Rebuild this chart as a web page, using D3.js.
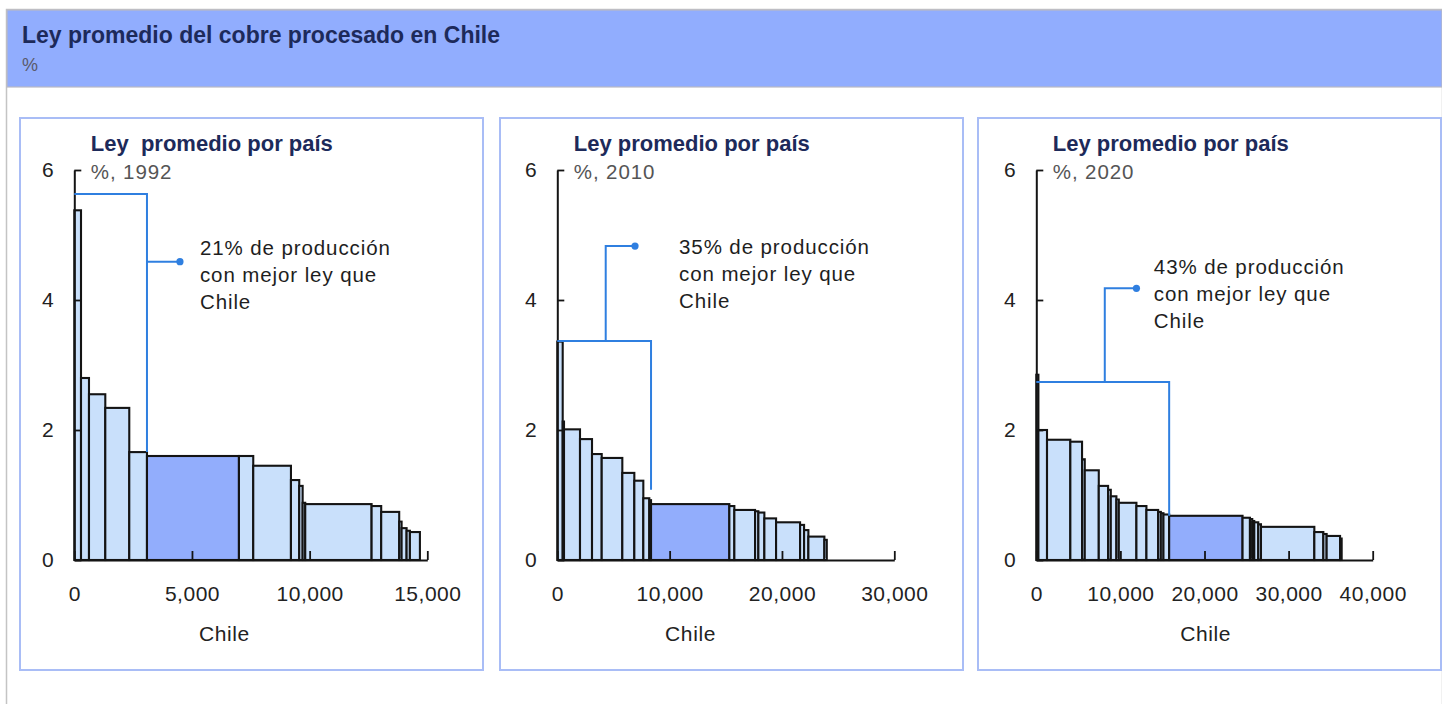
<!DOCTYPE html>
<html>
<head>
<meta charset="utf-8">
<script src="https://cdn.jsdelivr.net/npm/d3@7"></script>
<style>
  html, body { margin: 0; padding: 0; background: #ffffff; }
  svg { display: block; font-family: "Liberation Sans", Arial, Helvetica, sans-serif; }
</style>
</head>
<body>
<svg id="chart" width="1442" height="704"></svg>
<script>
// ---------------- DATA ----------------
const mainTitle = "Ley promedio del cobre procesado en Chile";
const mainUnit = "%";
const panelTitles = ["Ley  promedio por país", "Ley promedio por país", "Ley promedio por país"];
const years = ["1992", "2010", "2020"];
const axisLabel = "Chile";

// production (bar widths) and average grade (bar heights), countries sorted by grade
const prod1992  = [285, 339, 693, 1019, 752, 3908, 608, 1602, 352, 145, 110, 2820, 408, 765, 102, 212, 141, 425];
const grade1992 = [5.38, 2.80, 2.55, 2.34, 1.66, 1.60, 1.60, 1.45, 1.23, 1.14, 0.88, 0.86, 0.83, 0.74, 0.59, 0.49, 0.45, 0.43];

const prod2010  = [481, 116, 1424, 1069, 864, 1834, 1069, 801, 534, 152, 6972, 445, 1844, 294, 534, 1042, 2137, 356, 383, 1425, 213];
const grade2010 = [3.36, 2.13, 2.01, 1.86, 1.63, 1.57, 1.34, 1.22, 0.95, 0.92, 0.86, 0.83, 0.77, 0.75, 0.73, 0.64, 0.58, 0.54, 0.46, 0.36, 0.31];

const prod2020  = [250, 1024, 2774, 1392, 322, 1667, 1107, 321, 667, 286, 2095, 1190, 1393, 322, 309, 679, 8726, 881, 274, 238, 476, 321, 6346, 1071, 393, 1595, 191];
const grade2020 = [2.85, 2.00, 1.85, 1.82, 1.55, 1.38, 1.14, 1.08, 0.98, 0.93, 0.88, 0.83, 0.77, 0.74, 0.72, 0.70, 0.68, 0.65, 0.63, 0.60, 0.58, 0.55, 0.51, 0.43, 0.40, 0.37, 0.33];

const chileIndex = [5, 10, 16];

const xMax = [15000, 30000, 40000];
const xTicks1992 = [0, 5000, 10000, 15000];
const xTicks2010 = [0, 10000, 20000, 30000];
const xTicks2020 = [0, 10000, 20000, 30000, 40000];
const yTicks = [0, 2, 4, 6];
const yMax = 6;

// annotation: share of production with a better grade than Chile
const shareText = ["21% de producción", "35% de producción", "43% de producción"];
const shareLines = ["con mejor ley que", "Chile"];
const bracketTop = [5.63, 3.37, 2.74];
const bracketBottom = [1.66, 1.08, 0.68];
const stemX = [null, 4310, 8143];      // null: branch leaves the bracket's vertical side
const dotX = [4490, 6919, 11905];
const dotY = [4.59, 4.83, 4.18];
const noteX = [5340, 10837, 13976];
const noteY = [4.80, 4.815, 4.51];
const axisLabelX = [6381, 11861, 20143];

// ---------------- LAYOUT ----------------
const W = 1442, H = 704;
const panelLeft = [20, 500, 978];
const panelW = 463, panelTop = 118, panelH = 552;
const plotLeft = [74.3, 557.3, 1036.3];
const plotRight = [427.3, 894.3, 1372.7];
const plotTop = 170, plotBottom = 560;

const colLight = "#c9e0fb";
const colChile = "#92adfc";
const colBracket = "#2f7fe0";
const colInk = "#141414";
const colNavy = "#1d2a5a";

const svg = d3.select("#chart");

// outer frame + header band
svg.append("rect").attr("x", 6.5).attr("y", 9.5).attr("width", W - 6).attr("height", H)
  .attr("fill", "#fff").attr("stroke", "#c4c4c4").attr("stroke-width", 1.5);
svg.append("rect").attr("x", 7).attr("y", 10).attr("width", W - 7).attr("height", 77)
  .attr("fill", "#91adfe").attr("stroke", "#b9b9c4").attr("stroke-width", 1.2);
svg.append("text").attr("x", 22).attr("y", 43).text(mainTitle)
  .attr("font-size", 23).attr("font-weight", "bold").attr("fill", colNavy);
svg.append("text").attr("x", 22).attr("y", 71).text(mainUnit)
  .attr("font-size", 18).attr("fill", "#5a5a6a");

const datasets = [
  { prod: prod1992, grade: grade1992, ticks: xTicks1992 },
  { prod: prod2010, grade: grade2010, ticks: xTicks2010 },
  { prod: prod2020, grade: grade2020, ticks: xTicks2020 }
];

datasets.forEach((ds, p) => {
  // panel frame
  svg.append("rect").attr("x", panelLeft[p]).attr("y", panelTop)
    .attr("width", panelW).attr("height", panelH)
    .attr("fill", "#fff").attr("stroke", "#a9bdf6").attr("stroke-width", 2);

  const x = d3.scaleLinear().domain([0, xMax[p]]).range([plotLeft[p], plotRight[p]]);
  const y = d3.scaleLinear().domain([0, yMax]).range([plotBottom, plotTop]);

  const ends = Array.from(d3.cumsum(ds.prod));
  const bars = ds.prod.map((v, i) => ({
    x0: ends[i] - v, x1: ends[i], g: ds.grade[i], chile: i === chileIndex[p]
  }));

  const g = svg.append("g");

  // titles
  g.append("text").attr("x", plotLeft[p] + 16.5).attr("y", 151).text(panelTitles[p])
    .attr("font-size", 22).attr("font-weight", "bold").attr("fill", colNavy)
    .style("white-space", "pre").attr("xml:space", "preserve");
  g.append("text").attr("x", plotLeft[p] + 16.5).attr("y", 179).text("%, " + years[p])
    .attr("font-size", 20.5).attr("letter-spacing", 0.9).attr("fill", "#555");

  // bars
  g.append("g").selectAll("rect").data(bars).join("rect")
    .attr("x", d => x(d.x0))
    .attr("y", d => y(d.g))
    .attr("width", d => x(d.x1) - x(d.x0))
    .attr("height", d => y(0) - y(d.g))
    .attr("fill", d => d.chile ? colChile : colLight)
    .attr("stroke", colInk).attr("stroke-width", 2.1);

  // axes
  const yAxis = d3.axisLeft(y).tickValues(yTicks).tickSize(-7).tickSizeOuter(0)
    .tickPadding(20).tickFormat(d3.format("d"));
  const ya = g.append("g").attr("transform", `translate(${plotLeft[p]},0)`).call(yAxis);
  const xAxis = d3.axisBottom(x).tickValues(ds.ticks).tickSize(-9).tickSizeOuter(0)
    .tickPadding(26).tickFormat(d3.format(","));
  const xa = g.append("g").attr("transform", `translate(0,${plotBottom})`).call(xAxis);
  [ya, xa].forEach(a => {
    a.selectAll("path.domain").attr("stroke", colInk).attr("stroke-width", 2);
    a.selectAll(".tick line").attr("stroke", colInk).attr("stroke-width", 1.8);
    a.selectAll(".tick text").attr("font-size", 21).attr("letter-spacing", 0.5)
      .attr("fill", "#222").attr("font-family", "Liberation Sans, Arial, sans-serif");
  });

  g.append("text").attr("x", x(axisLabelX[p])).attr("y", 641).attr("text-anchor", "middle")
    .text(axisLabel).attr("font-size", 21).attr("letter-spacing", 0.6).attr("fill", "#222");

  // bracket annotation
  const chileStart = bars[chileIndex[p]].x0;
  const bracket = d3.path();
  bracket.moveTo(x(0), y(bracketTop[p]));
  bracket.lineTo(x(chileStart), y(bracketTop[p]));
  bracket.lineTo(x(chileStart), y(bracketBottom[p]));
  g.append("path").attr("d", bracket.toString()).attr("fill", "none")
    .attr("stroke", colBracket).attr("stroke-width", 2);

  const sx = stemX[p] === null ? chileStart : stemX[p];
  const stem = d3.path();
  stem.moveTo(x(sx), y(stemX[p] === null ? dotY[p] : bracketTop[p]));
  stem.lineTo(x(sx), y(dotY[p]));
  stem.lineTo(x(dotX[p]), y(dotY[p]));
  g.append("path").attr("d", stem.toString()).attr("fill", "none")
    .attr("stroke", colBracket).attr("stroke-width", 2);
  g.append("circle").attr("cx", x(dotX[p])).attr("cy", y(dotY[p])).attr("r", 3.6)
    .attr("fill", colBracket);

  const note = g.append("text").attr("x", x(noteX[p])).attr("y", y(noteY[p]) + 7)
    .attr("font-size", 20.5).attr("letter-spacing", 0.9).attr("fill", "#1e1e1e");
  [shareText[p]].concat(shareLines).forEach((t, i) => {
    note.append("tspan").attr("x", x(noteX[p])).attr("dy", i === 0 ? 0 : 27).text(t);
  });
});
</script>
</body>
</html>
